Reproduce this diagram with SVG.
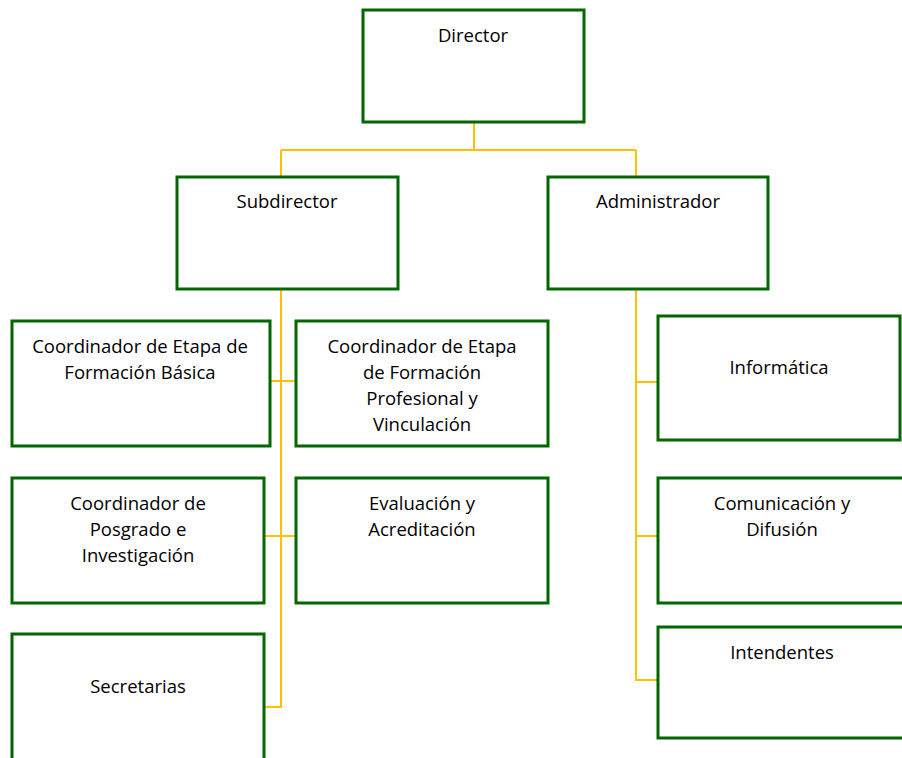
<svg xmlns="http://www.w3.org/2000/svg" width="902" height="758" viewBox="0 0 902 758">
<style>
.box{fill:#fff;stroke:#006600;stroke-width:3}
.t{font-family:"Open Sans","Liberation Sans",Arial,sans-serif;font-size:18.5px;fill:#000;text-anchor:middle}
.c{fill:none;stroke:#FFC000;stroke-width:2}
</style>
<rect width="902" height="758" fill="#fff"/>
<g id="connectors">
<path class="c" d="M474 122V150M281 150H636M281 150V177M636 150V177"/>
<path class="c" d="M281 289V707H265M271 381H296M264 536H296"/>
<path class="c" d="M636 289V680H658M636 382H658M636 536H658"/>
</g>
<g id="director"><rect class="box" x="363" y="10" width="221" height="112"/><text class="t" x="473" y="42">Director</text></g>
<g id="subdirector"><rect class="box" x="177" y="177" width="221" height="112"/><text class="t" x="287" y="208">Subdirector</text></g>
<g id="administrador"><rect class="box" x="548" y="177" width="220" height="112"/><text class="t" x="658" y="208">Administrador</text></g>
<g id="basica"><rect class="box" x="12" y="321" width="258" height="125"/><text class="t" x="140" y="353">Coordinador de Etapa de</text><text class="t" x="140" y="379">Formación Básica</text></g>
<g id="profesional"><rect class="box" x="296" y="321" width="252" height="125"/><text class="t" x="422" y="353">Coordinador de Etapa</text><text class="t" x="422" y="379">de Formación</text><text class="t" x="422" y="405">Profesional y</text><text class="t" x="422" y="431">Vinculación</text></g>
<g id="posgrado"><rect class="box" x="12" y="478" width="252" height="125"/><text class="t" x="138" y="510">Coordinador de</text><text class="t" x="138" y="536">Posgrado e</text><text class="t" x="138" y="562">Investigación</text></g>
<g id="evaluacion"><rect class="box" x="296" y="478" width="252" height="125"/><text class="t" x="422" y="510">Evaluación y</text><text class="t" x="422" y="536">Acreditación</text></g>
<g id="secretarias"><rect class="box" x="12" y="634" width="252" height="140"/><text class="t" x="138" y="693">Secretarias</text></g>
<g id="informatica"><rect class="box" x="658" y="316" width="242" height="124"/><text class="t" x="779" y="374">Informática</text></g>
<g id="comunicacion"><rect class="box" x="658" y="478" width="260" height="125"/><text class="t" x="782" y="510">Comunicación y</text><text class="t" x="782" y="536">Difusión</text></g>
<g id="intendentes"><rect class="box" x="658" y="627" width="260" height="111"/><text class="t" x="782" y="659">Intendentes</text></g>
</svg>
